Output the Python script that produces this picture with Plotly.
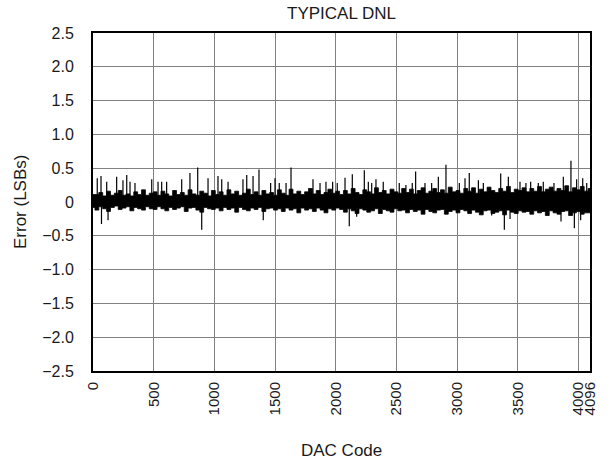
import plotly.graph_objects as go

# Band envelope (top and bottom of the dense noise band) read per 32-code segment, in LSB
band_hi = [0.11,0.14,0.09,0.16,0.10,0.13,0.17,0.10,0.12,0.09,0.15,0.11,0.18,0.10,0.13,0.15,
           0.10,0.16,0.12,0.09,0.17,0.11,0.14,0.10,0.18,0.12,0.10,0.16,0.13,0.09,0.17,0.11,
           0.15,0.10,0.18,0.12,0.16,0.10,0.13,0.19,0.11,0.15,0.10,0.17,0.12,0.14,0.10,0.18,
           0.13,0.10,0.19,0.12,0.16,0.11,0.15,0.20,0.12,0.17,0.11,0.14,0.19,0.13,0.16,0.11,
           0.17,0.12,0.20,0.14,0.11,0.18,0.15,0.12,0.21,0.14,0.17,0.12,0.19,0.15,0.13,0.20,
           0.14,0.19,0.12,0.17,0.21,0.13,0.16,0.20,0.14,0.18,0.13,0.22,0.15,0.17,0.13,0.20,
           0.16,0.21,0.13,0.19,0.15,0.22,0.17,0.14,0.20,0.16,0.23,0.14,0.19,0.17,0.21,0.15,
           0.20,0.16,0.23,0.15,0.19,0.22,0.16,0.20,0.17,0.24,0.15,0.21,0.18,0.23,0.16,0.20]
band_lo = [-0.08,-0.12,-0.07,-0.10,-0.14,-0.08,-0.06,-0.11,-0.09,-0.07,-0.13,-0.08,-0.10,-0.12,-0.07,-0.10,
           -0.11,-0.07,-0.10,-0.13,-0.08,-0.11,-0.09,-0.07,-0.14,-0.09,-0.08,-0.12,-0.15,-0.08,-0.10,-0.11,
           -0.09,-0.13,-0.08,-0.11,-0.09,-0.15,-0.08,-0.11,-0.13,-0.09,-0.11,-0.08,-0.14,-0.10,-0.09,-0.12,
           -0.10,-0.14,-0.09,-0.12,-0.10,-0.16,-0.09,-0.12,-0.10,-0.14,-0.09,-0.12,-0.16,-0.10,-0.12,-0.09,
           -0.11,-0.15,-0.10,-0.13,-0.17,-0.10,-0.12,-0.15,-0.13,-0.10,-0.17,-0.11,-0.13,-0.15,-0.10,-0.13,
           -0.12,-0.16,-0.11,-0.14,-0.12,-0.18,-0.11,-0.14,-0.16,-0.12,-0.11,-0.18,-0.14,-0.12,-0.16,-0.11,
           -0.13,-0.17,-0.12,-0.15,-0.19,-0.13,-0.12,-0.17,-0.15,-0.13,-0.19,-0.12,-0.15,-0.17,-0.13,-0.15,
           -0.14,-0.18,-0.13,-0.16,-0.14,-0.20,-0.13,-0.16,-0.18,-0.14,-0.13,-0.20,-0.16,-0.14,-0.18,-0.16]
segment_width = 32

# Individual spikes (code, LSB)
spike_codes = [35, 66, 70, 113, 124, 195, 247, 278, 305, 346, 484, 536, 566, 607, 731, 799, 863, 896,
               948, 1030, 1061, 1113, 1236, 1267, 1319, 1368, 1403, 1464, 1500, 1535, 1591, 1632,
               1813, 1871, 1920, 1975, 2013, 2077, 2112, 2137, 2173, 2236, 2269, 2297, 2332, 2392,
               2524, 2579, 2631, 2659, 2736, 2791, 2846, 2909, 3019, 3066, 3101, 3176, 3217, 3286,
               3360, 3390, 3423, 3437, 3519, 3568, 3607, 3670, 3711, 3799, 3857, 3876, 3939, 3967,
               3986, 4019, 4036, 4069]
spike_vals = [0.35, 0.385, -0.325, 0.30, -0.27, 0.375, 0.32, 0.40, 0.30, 0.28, 0.335, 0.30, 0.30, 0.30,
              0.335, 0.43, 0.51, -0.41, 0.35, 0.385, 0.335, 0.30, 0.335, 0.40, 0.385, 0.48, -0.27,
              0.28, 0.35, 0.28, 0.28, 0.51, 0.335, 0.28, 0.30, 0.30, 0.28, 0.36, -0.36, 0.41, -0.22,
              0.47, 0.30, 0.28, 0.335, 0.30, 0.28, 0.25, 0.28, 0.45, 0.28, 0.28, 0.375, 0.55, 0.28,
              0.35, 0.43, 0.32, 0.28, -0.20, 0.42, -0.41, 0.375, -0.25, 0.30, 0.28, 0.30, 0.28, 0.30,
              0.28, -0.29, 0.375, 0.61, -0.39, 0.335, -0.27, 0.35, 0.28]

x_ticks = [0, 500, 1000, 1500, 2000, 2500, 3000, 3500, 4000, 4096]
y_ticks = [-2.5, -2.0, -1.5, -1.0, -0.5, 0, 0.5, 1.0, 1.5, 2.0, 2.5]
y_labels = ["\u22122.5", "\u22122.0", "\u22121.5", "\u22121.0", "\u22120.5", "0",
            "0.5", "1.0", "1.5", "2.0", "2.5"]
code_max = 4096

# Band polygon: top envelope left->right, bottom envelope right->left
n = len(band_hi)
centers = [i * segment_width + segment_width / 2 for i in range(n)]
top_x = [0] + centers + [code_max]
top_y = [band_hi[0]] + band_hi + [band_hi[-1]]
bot_x = [0] + centers + [code_max]
bot_y = [band_lo[0]] + band_lo + [band_lo[-1]]
poly_x = top_x + bot_x[::-1]
poly_y = top_y + bot_y[::-1]

sx, sy = [], []
for c, v in zip(spike_codes, spike_vals):
    sx += [c, c, None]
    sy += [0, v, None]

fig = go.Figure()
fig.add_trace(go.Scatter(x=poly_x, y=poly_y, mode="lines", fill="toself",
                         fillcolor="black", line=dict(color="black", width=0.8, shape="hv"),
                         showlegend=False, hoverinfo="skip"))
fig.add_trace(go.Scatter(x=sx, y=sy, mode="lines",
                         line=dict(color="black", width=1.2), showlegend=False))

font = dict(family="Arial, Liberation Sans, sans-serif", size=16, color="#1a1a1a")
fig.update_layout(
    width=612, height=466,
    margin=dict(l=93, r=22, t=33, b=95),
    paper_bgcolor="white", plot_bgcolor="white",
    font=font,
    annotations=[
        dict(text="TYPICAL DNL", x=0.5, y=1, xref="paper", yref="paper",
             xanchor="center", yanchor="middle", yshift=20, showarrow=False,
             font=dict(size=17)),
        dict(text="DAC Code", x=0.5, y=0, xref="paper", yref="paper",
             xanchor="center", yanchor="middle", yshift=-79, showarrow=False,
             font=dict(size=17)),
        dict(text="Error (LSBs)", x=0, y=0.5, xref="paper", yref="paper",
             xanchor="center", yanchor="middle", xshift=-73, textangle=-90,
             showarrow=False, font=dict(size=17)),
    ],
)
fig.update_xaxes(range=[0, code_max], tickvals=x_ticks, ticktext=[str(t) for t in x_ticks],
                 tickangle=-90, tickfont=dict(size=15),
                 showgrid=True, gridcolor="#808080", gridwidth=1,
                 showline=True, linecolor="black", linewidth=2, mirror=True,
                 ticks="outside", ticklen=3, tickcolor="rgba(0,0,0,0)", zeroline=False)
fig.update_yaxes(range=[-2.5, 2.5], tickvals=y_ticks, ticktext=y_labels,
                 showgrid=True, gridcolor="#808080", gridwidth=1,
                 showline=True, linecolor="black", linewidth=2, mirror=True,
                 ticks="outside", ticklen=14, tickcolor="rgba(0,0,0,0)", zeroline=False)
# remove the page's default 8px body margin so the figure sits at the window's corner
fig.write_html("out.html", config={"displayModeBar": False},
               post_script="document.body.style.margin='0';")
